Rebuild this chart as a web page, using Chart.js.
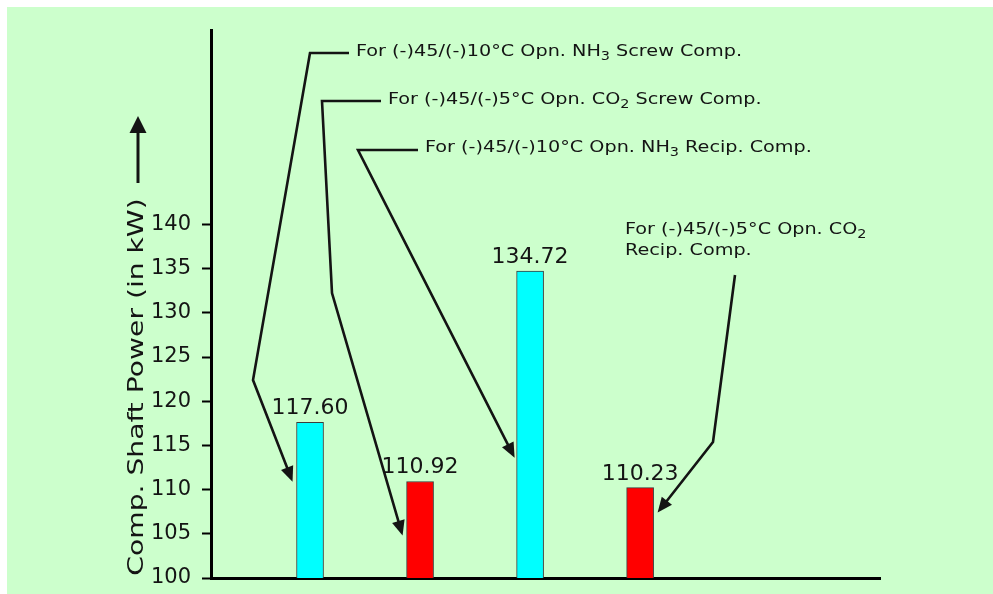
<!DOCTYPE html>
<html>
<head>
<meta charset="utf-8">
<script src="https://cdn.jsdelivr.net/npm/chart.js@4/dist/chart.umd.min.js"></script>
<style>
  html, body { margin: 0; padding: 0; background: #ffffff; overflow: hidden; }
  #wrap { width: 993px; height: 594px; position: relative; }
</style>
</head>
<body>
<div id="wrap"><canvas id="c" width="993" height="594"></canvas></div>
<script>
// Compressor configurations compared
const categories = [
  'For (-)45/(-)10°C Opn. NH3 Screw Comp.',
  'For (-)45/(-)5°C Opn. CO2 Screw Comp.',
  'For (-)45/(-)10°C Opn. NH3 Recip. Comp.',
  'For (-)45/(-)5°C Opn. CO2 Recip. Comp.'
];
// Slot of each bar along the horizontal axis
const barSlots = [1, 2, 3, 4];
// Compressor shaft power, kW
const shaftPower = [117.60, 110.92, 134.72, 110.23];
const barColors = ['#00ffff', '#ff0000', '#00ffff', '#ff0000'];
// Tick labels on the power axis
const yTicks = [100, 105, 110, 115, 120, 125, 130, 135, 140];
const yTitle = 'Comp. Shaft Power (in kW)';

const FONT = 'DejaVu Sans';
const INK = '#141414';

// Leader lines from each caption to its bar (canvas pixels for the caption side,
// axis values for where the arrow meets the bar)
const callouts = [
  { lines: [categories[0]], textX: 356, textY: 52,
    path: [[349, 53], [310, 53], [253, 380]], bar: 0, side: 'left', gap: 4, at: 110.9 },
  { lines: [categories[1]], textX: 388, textY: 100,
    path: [[381, 101], [322, 101], [332, 293]], bar: 1, side: 'left', gap: 4, at: 104.8 },
  { lines: [categories[2]], textX: 425, textY: 148,
    path: [[418, 150], [358, 150]], bar: 2, side: 'left', gap: 2, at: 113.6 },
  { lines: [categories[3].replace(' Recip. Comp.', ''), 'Recip. Comp.'], textX: 625, textY: 230,
    path: [[735, 275], [713, 442]], bar: 3, side: 'right', gap: 4, at: 107.4 }
];

// Draws text where the digit after NH / CO is set as a subscript
function drawChemText(ctx, text, x, y, size, sx) {
  const parts = text.split(/((?:NH|CO)\d)/).filter(s => s.length);
  ctx.save();
  ctx.translate(x, y);
  ctx.scale(sx, 1);
  ctx.textAlign = 'left';
  ctx.textBaseline = 'middle';
  let cx = 0;
  for (const p of parts) {
    const m = p.match(/^(NH|CO)(\d)$/);
    if (m) {
      ctx.font = size + 'px "' + FONT + '"';
      ctx.fillText(m[1], cx, 0);
      cx += ctx.measureText(m[1]).width;
      ctx.font = Math.round(size * 0.78) + 'px "' + FONT + '"';
      ctx.fillText(m[2], cx, size * 0.32);
      cx += ctx.measureText(m[2]).width;
    } else {
      ctx.font = size + 'px "' + FONT + '"';
      ctx.fillText(p, cx, 0);
      cx += ctx.measureText(p).width;
    }
  }
  ctx.restore();
}

function arrowHead(ctx, from, tip, len, half) {
  const ang = Math.atan2(tip[1] - from[1], tip[0] - from[0]);
  ctx.save();
  ctx.translate(tip[0], tip[1]);
  ctx.rotate(ang);
  ctx.beginPath();
  ctx.moveTo(0, 0);
  ctx.lineTo(-len, -half);
  ctx.lineTo(-len, half);
  ctx.closePath();
  ctx.fill();
  ctx.restore();
}

const backdrop = {
  id: 'backdrop',
  beforeDraw(chart) {
    const ctx = chart.ctx;
    ctx.save();
    ctx.fillStyle = '#ffffff';
    ctx.fillRect(0, 0, chart.width, chart.height);
    ctx.fillStyle = '#ccffcc';
    ctx.fillRect(7, 7, chart.width - 7, chart.height - 7);
    ctx.restore();
  }
};

const annotations = {
  id: 'annotations',
  afterDatasetsDraw(chart) {
    const ctx = chart.ctx;
    const meta = chart.getDatasetMeta(0);
    const yScale = chart.scales.y;
    ctx.save();
    ctx.fillStyle = INK;
    ctx.strokeStyle = INK;

    // value over each bar
    ctx.font = '22px "' + FONT + '"';
    ctx.textAlign = 'center';
    ctx.textBaseline = 'alphabetic';
    meta.data.forEach((bar, i) => {
      ctx.fillText(shaftPower[i].toFixed(2), bar.x, bar.y - 8);
    });

    // captions with leader arrows
    ctx.lineWidth = 2.6;
    ctx.lineJoin = 'miter';
    callouts.forEach(c => {
      c.lines.forEach((ln, k) => drawChemText(ctx, ln, c.textX, c.textY + k * 21, 16, 1.2));
      const bar = meta.data[c.bar];
      const half = bar.width / 2 + c.gap;
      const tip = [bar.x + (c.side === 'left' ? -half : half), yScale.getPixelForValue(c.at)];
      const pts = c.path.concat([tip]);
      const prev = pts[pts.length - 2];
      const ang = Math.atan2(tip[1] - prev[1], tip[0] - prev[0]);
      const stop = [tip[0] - Math.cos(ang) * 10, tip[1] - Math.sin(ang) * 10];
      ctx.beginPath();
      ctx.moveTo(pts[0][0], pts[0][1]);
      for (let k = 1; k < pts.length - 1; k++) ctx.lineTo(pts[k][0], pts[k][1]);
      ctx.lineTo(stop[0], stop[1]);
      ctx.stroke();
      arrowHead(ctx, prev, tip, 15, 6.5);
    });

    // rotated axis title with upward arrow
    ctx.save();
    ctx.translate(137, 387);
    ctx.rotate(-Math.PI / 2);
    ctx.scale(1.28, 1);
    ctx.font = '22px "' + FONT + '"';
    ctx.textAlign = 'center';
    ctx.textBaseline = 'middle';
    ctx.fillText(yTitle, 0, 0);
    ctx.restore();

    ctx.lineWidth = 3;
    ctx.beginPath();
    ctx.moveTo(138, 183);
    ctx.lineTo(138, 128);
    ctx.stroke();
    arrowHead(ctx, [138, 183], [138, 116], 17, 8.5);
    ctx.restore();
  }
};

new Chart(document.getElementById('c'), {
  type: 'bar',
  data: {
    datasets: [{
      data: barSlots.map((x, i) => ({ x: x, y: shaftPower[i] })),
      backgroundColor: barColors,
      borderColor: '#3c3c3c',
      borderWidth: 1,
      barThickness: 27
    }]
  },
  options: {
    responsive: false,
    animation: false,
    devicePixelRatio: 1,
    layout: { padding: { left: 0, top: 30, right: 113, bottom: 16 } },
    plugins: { legend: { display: false }, tooltip: { enabled: false }, title: { display: false } },
    scales: {
      x: {
        type: 'linear',
        offset: false,
        min: 0.1,
        max: 6.18,
        ticks: { display: false },
        grid: { display: false, drawTicks: false },
        border: { display: true, color: '#000000', width: 3 },
        afterFit(axis) { axis.height = 0; }
      },
      y: {
        type: 'linear',
        min: 100,
        max: 162,
        afterBuildTicks(axis) { axis.ticks = yTicks.map(v => ({ value: v })); },
        afterFit(axis) {
          axis.width = 211;
          axis.paddingTop = 0;
          axis.paddingBottom = 0;
        },
        grid: { drawOnChartArea: false, drawTicks: true, tickLength: 9, tickWidth: 2, tickColor: '#000000' },
        border: { display: true, color: '#000000', width: 3 },
        ticks: {
          font: { family: FONT, size: 21 },
          color: INK,
          padding: 11,
          callback: v => String(v)
        }
      }
    }
  },
  plugins: [backdrop, annotations]
});
</script>
</body>
</html>
